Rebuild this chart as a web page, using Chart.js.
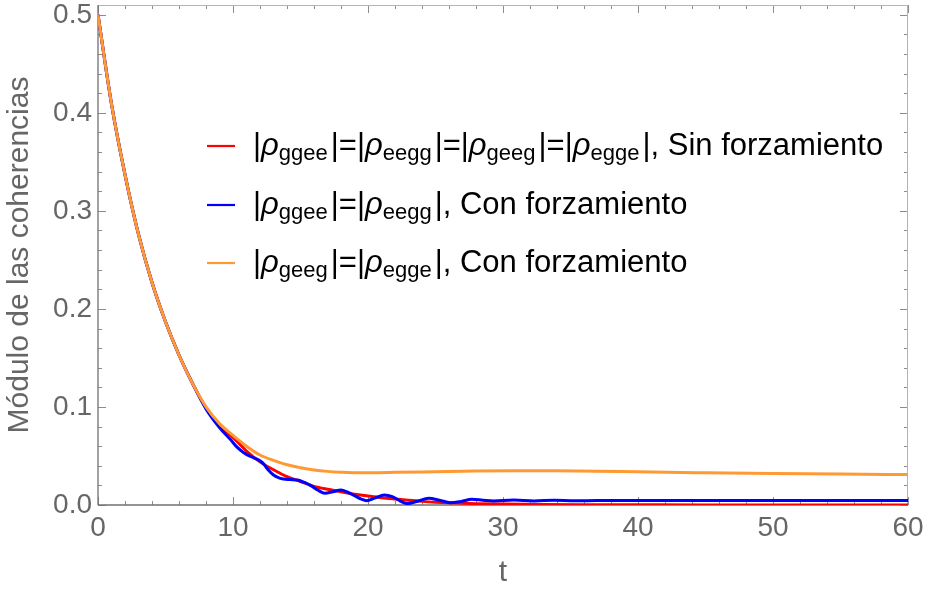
<!DOCTYPE html>
<html>
<head>
<meta charset="utf-8">
<script src="https://cdn.jsdelivr.net/npm/chart.js@4/dist/chart.umd.min.js"></script>
<style>
html,body{margin:0;padding:0;background:#fff;}
#wrap{width:928px;height:591px;position:relative;}
</style>
</head>
<body>
<div id="wrap"><canvas id="c" width="928" height="591"></canvas></div>
<script>
// ---- data ----
const tRed = [0,1,2,3,4,5,6,7,8,9,10,11,12,13,14,15,16,17,18,19,20,21,22,23,24,25,26,27,28,30,33,36,40,45,50,55,60];
const red  = [0.5,0.409,0.337,0.276,0.227,0.187,0.153,0.124,0.099,0.081,0.069,0.055,0.044,0.036,0.029,0.024,0.019,0.016,0.0136,0.011,0.0092,0.0075,0.0061,0.0048,0.0037,0.0029,0.0023,0.0018,0.0014,0.0009,0.0005,0.0003,0.0002,0.0001,0.0001,0,0];

const tBlue = [0,1,2,3,4,5,6,7,8,9,9.8,10.3,10.8,11.3,11.8,12.2,12.6,13.0,13.5,14.2,14.8,15.3,15.8,16.3,16.8,17.4,18.0,18.5,19.0,19.5,19.9,20.5,21.2,21.8,22.4,22.9,23.6,24.5,25.3,26.1,26.9,27.7,28.5,29.3,30.8,32.3,33.8,35.3,37,40,45,50,55,60];
const blue  = [0.5,0.409,0.337,0.276,0.227,0.187,0.153,0.124,0.098,0.079,0.067,0.059,0.0534,0.0495,0.0466,0.043,0.036,0.0306,0.0272,0.026,0.0255,0.023,0.0195,0.015,0.012,0.0135,0.0153,0.013,0.0095,0.006,0.0044,0.007,0.0102,0.0085,0.004,0.0015,0.0035,0.0068,0.0048,0.0024,0.0037,0.0058,0.0049,0.0041,0.0051,0.0041,0.0049,0.0043,0.0046,0.0045,0.0045,0.0045,0.0045,0.0045];

const tOrange = [0,1,2,3,4,5,6,7,8,9,10,11,12,13,14,15,16,17,18,19,20,22,25,28,31,34,37,40,45,50,55,60];
const orange  = [0.5,0.409,0.337,0.276,0.227,0.187,0.153,0.124,0.1,0.083,0.071,0.06,0.051,0.0455,0.041,0.038,0.0357,0.0343,0.0335,0.033,0.033,0.0333,0.034,0.0347,0.035,0.0349,0.0345,0.0338,0.0329,0.0321,0.0315,0.031];

const xTicks = [0,10,20,30,40,50,60];
const xMinorTicks = [2,4,6,8,12,14,16,18,22,24,26,28,32,34,36,38,42,44,46,48,52,54,56,58];
const yTicks = [0,0.1,0.2,0.3,0.4,0.5];
const yMinorTicks = [0.02,0.04,0.06,0.08,0.12,0.14,0.16,0.18,0.22,0.24,0.26,0.28,0.32,0.34,0.36,0.38,0.42,0.44,0.46,0.48];

const xTitle = 't';
const yTitle = 'Módulo de las coherencias';
// legend rows: [text, kind]  kind: n = normal, i = italic rho, s = subscript
const legendRows = [
  [['|','n'],['ρ','i'],['ggee','s'],['|=|','n'],['ρ','i'],['eegg','s'],['|=|','n'],['ρ','i'],['geeg','s'],['|=|','n'],['ρ','i'],['egge','s'],['|, Sin forzamiento','n']],
  [['|','n'],['ρ','i'],['ggee','s'],['|=|','n'],['ρ','i'],['eegg','s'],['|, Con forzamiento','n']],
  [['|','n'],['ρ','i'],['geeg','s'],['|=|','n'],['ρ','i'],['egge','s'],['|, Con forzamiento','n']]
];

const colors = ['#ff0000','#0000ff','#ff9a33'];

const toPts = (t, v) => t.map((ti, i) => ({x: ti, y: v[i]}));

const FONT = '"Liberation Sans", Arial, Helvetica, sans-serif';
const GRAY = '#666666';

const framePlugin = {
  id: 'frame',
  beforeDatasetsDraw(chart) {
    const {ctx, chartArea: a, scales: {x, y}} = chart;
    ctx.save();
    ctx.lineWidth = 1;
    ctx.strokeStyle = '#8c8c8c';
    const seg = (x1, y1, x2, y2) => { ctx.beginPath(); ctx.moveTo(x1, y1); ctx.lineTo(x2, y2); ctx.stroke(); };
    const xt = (list, len) => list.forEach(v => {
      const p = Math.round(x.getPixelForValue(v)) + 0.5;
      seg(p, a.bottom, p, a.bottom - len);
      seg(p, a.top, p, a.top + len);
    });
    const yt = (list, len) => list.forEach(v => {
      const p = Math.round(y.getPixelForValue(v)) + 0.5;
      seg(a.left, p, a.left + len, p);
      seg(a.right, p, a.right - len, p);
    });
    xt(xMinorTicks, 4); xt(xTicks, 8);
    yt(yMinorTicks, 4); yt(yTicks, 8);
    // frame
    ctx.strokeStyle = '#b4b4b4';
    seg(a.left, a.top + 0.5, a.right, a.top + 0.5);
    seg(a.right - 0.5, a.top, a.right - 0.5, a.bottom);
    ctx.strokeStyle = '#707070';
    ctx.lineWidth = 1.3;
    seg(a.left, a.bottom, a.right, a.bottom);
    seg(a.left, a.top, a.left, a.bottom);
    ctx.restore();
  }
};

const legendPlugin = {
  id: 'mlegend',
  afterDatasetsDraw(chart) {
    const ctx = chart.ctx;
    const rowY = [146, 205, 263];
    ctx.save();
    legendRows.forEach((row, r) => {
      const yc = rowY[r];
      ctx.strokeStyle = colors[r];
      ctx.lineWidth = 2.2;
      ctx.beginPath(); ctx.moveTo(207, yc); ctx.lineTo(235, yc); ctx.stroke();
      let cx = 253;
      const base = yc + 9;
      ctx.fillStyle = '#000';
      ctx.textBaseline = 'alphabetic';
      ctx.textAlign = 'left';
      row.forEach(([txt, kind]) => {
        let yy = base;
        if (kind === 'i') ctx.font = 'italic 31px ' + FONT;
        else if (kind === 's') { ctx.font = '22px ' + FONT; yy = base + 5; }
        else ctx.font = '31px ' + FONT;
        ctx.fillText(txt, cx, yy);
        cx += ctx.measureText(txt).width + (kind === 's' ? 3 : 0);
      });
    });
    ctx.restore();
  }
};

const ds = (label, pts, color, order) => ({
  label, data: pts, borderColor: color, backgroundColor: color,
  borderWidth: 3, pointRadius: 0, fill: false,
  cubicInterpolationMode: 'monotone', order
});

new Chart(document.getElementById('c'), {
  type: 'line',
  data: {
    datasets: [
      ds('red', toPts(tRed, red), colors[0], 3),
      ds('blue', toPts(tBlue, blue), colors[1], 2),
      ds('orange', toPts(tOrange, orange), colors[2], 1)
    ]
  },
  options: {
    responsive: false,
    devicePixelRatio: 1,
    animation: false,
    layout: { padding: { left: 0, right: 20, top: 5, bottom: 0 } },
    plugins: { legend: { display: false }, tooltip: { enabled: false } },
    scales: {
      x: {
        type: 'linear', min: 0, max: 60,
        grid: { display: false, drawTicks: false },
        border: { display: false },
        ticks: { font: { size: 28, family: FONT }, color: GRAY, padding: 6, maxRotation: 0 },
        afterBuildTicks: s => { s.ticks = xTicks.map(v => ({ value: v })); },
        afterFit: s => { s.height = 86; s.paddingLeft = 0; s.paddingRight = 0; },
        title: { display: true, text: xTitle, color: GRAY, font: { size: 30, family: FONT }, padding: { top: 0, bottom: 0 } }
      },
      y: {
        type: 'linear', min: 0, max: 0.51,
        grid: { display: false, drawTicks: false },
        border: { display: false },
        ticks: { font: { size: 28, family: FONT }, color: GRAY, padding: 6,
          callback: v => Number(v).toFixed(1) },
        afterBuildTicks: s => { s.ticks = yTicks.map(v => ({ value: v })); },
        afterFit: s => { s.width = 98; s.paddingTop = 0; s.paddingBottom = 0; },
        title: { display: true, text: yTitle, color: GRAY, font: { size: 30, family: FONT }, padding: { top: 2, bottom: 0 } }
      }
    }
  },
  plugins: [framePlugin, legendPlugin]
});
</script>
</body>
</html>
